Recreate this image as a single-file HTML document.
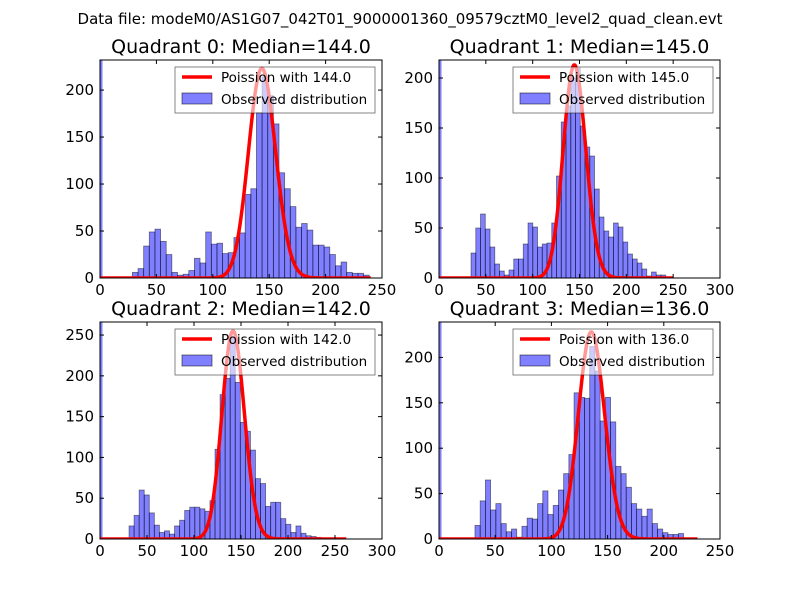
<!DOCTYPE html>
<html><head><meta charset="utf-8">
<style>
html,body{margin:0;padding:0;background:#fff;}
svg{display:block;font-family:"DejaVu Sans","Liberation Sans",sans-serif;}
</style></head>
<body>
<svg id="fig" width="800" height="600" viewBox="0 0 800 600" xmlns="http://www.w3.org/2000/svg">
<rect width="800" height="600" fill="#fff"/>
<text x="400" y="24" font-size="15" text-anchor="middle">Data file: modeM0/AS1G07_042T01_9000001360_09579cztM0_level2_quad_clean.evt</text>
</svg>
<script>
// ---- data ----
const quadrantNames = ["Quadrant 0","Quadrant 1","Quadrant 2","Quadrant 3"];
const medians = [144.0, 145.0, 142.0, 136.0];
const binStarts = [28.7, 34.2, 30.9, 32];
const binWidths = [5.0, 5.07, 5.38, 4.64];
const zeroCounts = [400, 400, 400, 400];
const counts0 = [6,10,34,49,52,39,25,6,3,4,8,21,16,49,36,37,26,27,43,48,89,95,176,214,194,164,112,95,76,54,58,51,35,35,33,25,13,17,6,5,5,3];
const counts1 = [25,50,64,49,31,14,7,3,8,19,19,34,55,51,31,34,35,55,102,156,172,200,210,152,131,122,89,61,47,41,55,51,36,24,19,15,9,2,6,3,3];
const counts2 = [16,29,60,54,32,17,8,10,6,16,23,35,39,39,37,34,47,110,177,197,248,192,143,132,109,74,68,40,45,45,25,18,8,16,7,4,3,2];
const counts3 = [15,42,65,32,39,17,8,11,2,14,23,22,39,53,27,37,54,72,93,161,156,155,212,185,130,156,129,80,72,57,39,33,25,33,17,11,7,5,5,6];
const allCounts = [counts0, counts1, counts2, counts3];
const curvePeaks = [223, 213, 255, 228];
const curveEnds = [240, 250, 262, 230];
const xMaxes = [250, 300, 300, 250];
const yMaxes = [232, 218, 266, 239];
const xTicks = [[0,50,100,150,200,250],[0,50,100,150,200,250,300],[0,50,100,150,200,250,300],[0,50,100,150,200,250]];
const yTicks = [[0,50,100,150,200],[0,50,100,150,200],[0,50,100,150,200,250],[0,50,100,150,200]];

const NS = "http://www.w3.org/2000/svg";
const svg = document.getElementById("fig");
const boxes = [[100,60,382,278],[439,60,720,278],[100,322,382,539],[439,322,720,539]];
function mk(tag, attrs, parent){const e=document.createElementNS(NS,tag);for(const k in attrs)e.setAttribute(k,attrs[k]);(parent||svg).appendChild(e);return e;}
function logFact(n){let s=0;for(let i=2;i<=n;i++)s+=Math.log(i);return s;}

for(let q=0;q<4;q++){
  const [L,T,R,B]=boxes[q];
  const xs=v=>L+(v/xMaxes[q])*(R-L);
  const ys=v=>B-(v/yMaxes[q])*(B-T);
  const g=mk("g",{});
  
  
  const clipId='clip'+q;
  const cp=mk("clipPath",{id:clipId},g);mk("rect",{x:L,y:T,width:R-L,height:B-T},cp);
  const title=mk("text",{x:(L+R)/2,y:T-7,"font-size":19,"text-anchor":"middle"},g);
  title.textContent=quadrantNames[q]+": Median="+medians[q].toFixed(1);
  
  
  const plot=mk("g",{"clip-path":"url(#"+clipId+")"},g);
  // zero bar
  const zb=mk("rect",{x:L,y:ys(zeroCounts[q]),width:2.5,height:B-ys(zeroCounts[q]),fill:"rgba(0,0,255,0.5)"},plot);
  
  
  const c=allCounts[q];
  for(let i=0;i<c.length;i++){
    const x0=binStarts[q]+i*binWidths[q];
    const b=mk("rect",{x:xs(x0),y:ys(c[i]),width:xs(x0+binWidths[q])-xs(x0),height:B-ys(c[i]),fill:"rgba(0,0,255,0.5)",stroke:"rgba(0,0,0,0.5)","stroke-width":0.8},plot);
    
    
  }
  // poisson curve (drawn over bars)
  const mu=medians[q];let pmax=Math.exp(-mu+Math.floor(mu)*Math.log(mu)-logFact(Math.floor(mu)));
  let d="";
  for(let k=0;k<=curveEnds[q];k++){const p=Math.exp(-mu+k*Math.log(mu)-logFact(k));const v=p/pmax*curvePeaks[q];d+=(k?"L":"M")+xs(k).toFixed(2)+","+ys(v).toFixed(2);}
  const line=mk("path",{d:d,fill:"none",stroke:"#ff0000","stroke-width":3.5,"stroke-linejoin":"round"},plot);
  
  
  // frame
  const fr=mk("rect",{x:L,y:T,width:R-L,height:B-T,fill:"none",stroke:"#000","stroke-width":1},g);
  
  
  for(const t of xTicks[q]){
    const x=xs(t);
    mk("line",{x1:x,y1:B,x2:x,y2:B-4,stroke:"#000"},g);
    mk("line",{x1:x,y1:T,x2:x,y2:T+4,stroke:"#000"},g);
    const lb=mk("text",{x:x,y:B+17,"font-size":15,"text-anchor":"middle"},g);
    lb.textContent=t;
    
    
  }
  for(const t of yTicks[q]){
    const y=ys(t);
    mk("line",{x1:L,y1:y,x2:L+4,y2:y,stroke:"#000"},g);
    mk("line",{x1:R,y1:y,x2:R-4,y2:y,stroke:"#000"},g);
    const lb=mk("text",{x:L-6,y:y+5,"font-size":15,"text-anchor":"end"},g);
    lb.textContent=t;
    
    
  }
  // legend
  const lx=R-207, ly=T+7;
  const lg=mk("g",{},g);
  
  
  mk("rect",{x:lx,y:ly,width:200,height:46,fill:"#fff","fill-opacity":0.6,stroke:"#000","stroke-width":0.8,"stroke-opacity":0.6},lg);
  mk("line",{x1:lx+7,y1:ly+10,x2:lx+37,y2:ly+10,stroke:"#ff0000","stroke-width":3.5},lg);
  mk("rect",{x:lx+7,y:ly+26,width:30,height:11,fill:"rgba(0,0,255,0.5)",stroke:"rgba(0,0,0,0.5)"},lg);
  const t1=mk("text",{x:lx+46,y:ly+15,"font-size":13.5},lg);
  t1.textContent="Poission with "+medians[q].toFixed(1);
  
  
  const t2=mk("text",{x:lx+46,y:ly+37,"font-size":13.5},lg);
  t2.textContent="Observed distribution";
  
  
}
</script>
</body></html>
